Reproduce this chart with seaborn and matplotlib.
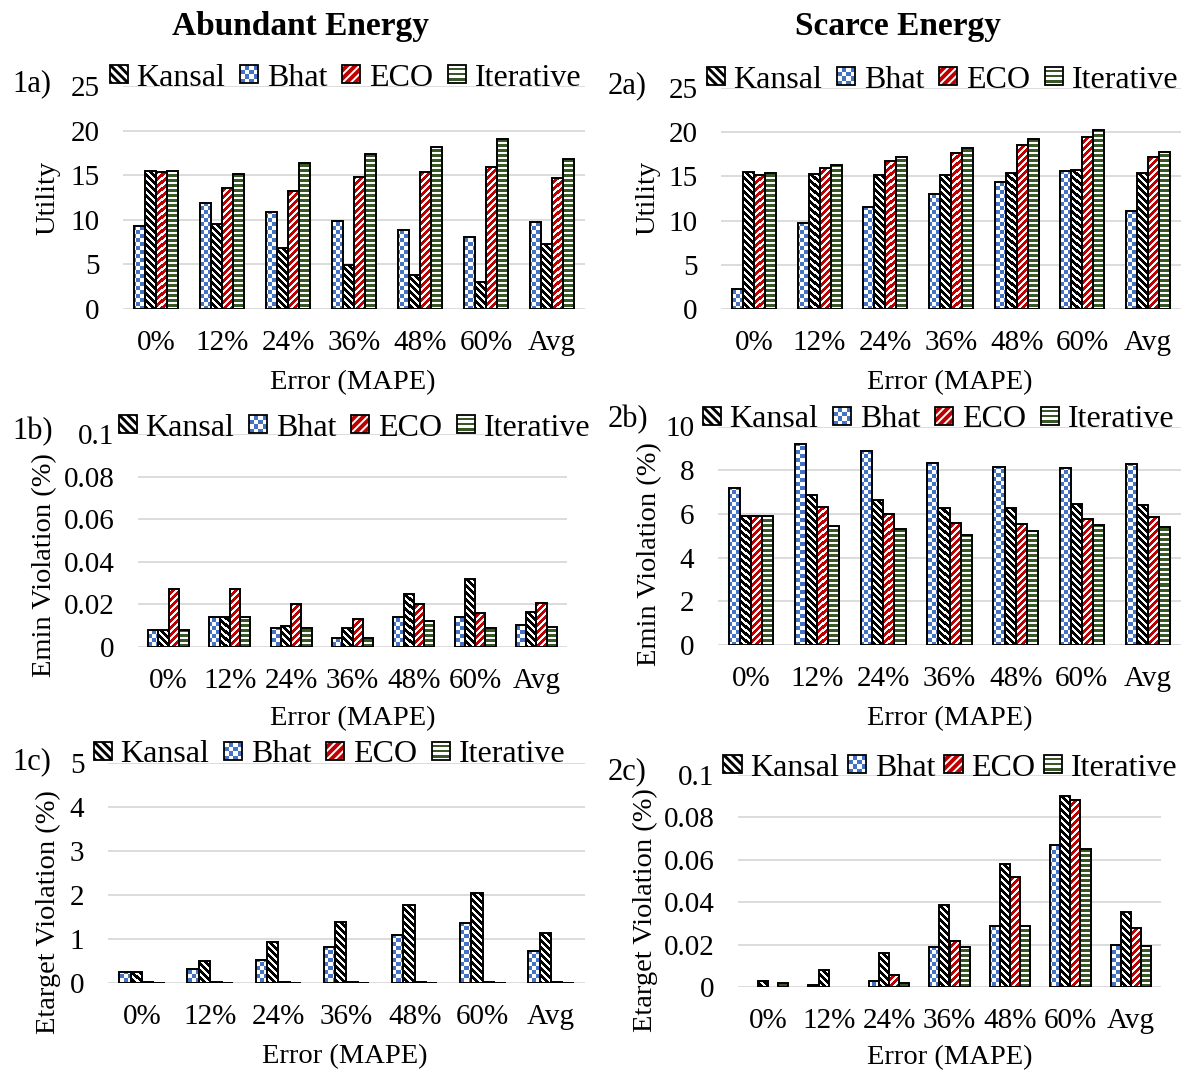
import numpy as np
import pandas as pd
import matplotlib
matplotlib.use("Agg")
import matplotlib.pyplot as plt
from matplotlib.patches import Rectangle, Polygon
from matplotlib.colors import to_rgb
from matplotlib.legend_handler import HandlerBase
from matplotlib.ticker import FuncFormatter
import seaborn as sns

# ---------------------------------------------------------------- data
errors = ["0%", "12%", "24%", "36%", "48%", "60%", "Avg"]

# 1a) utility, abundant energy
util_ab_bhat = [9.25, 11.85, 10.9, 9.8, 8.85, 8.0, 9.75]
util_ab_kansal = [15.45, 9.55, 6.8, 4.9, 3.8, 3.0, 7.25]
util_ab_eco = [15.4, 13.6, 13.2, 14.75, 15.3, 15.9, 14.7]
util_ab_iter = [15.5, 15.1, 16.4, 17.4, 18.2, 19.05, 16.8]

# 2a) utility, scarce energy
util_sc_bhat = [2.25, 9.7, 11.5, 13.0, 14.35, 15.65, 11.1]
util_sc_kansal = [15.45, 15.3, 15.1, 15.2, 15.4, 15.7, 15.35]
util_sc_eco = [15.2, 15.95, 16.7, 17.6, 18.5, 19.4, 17.2]
util_sc_iter = [15.4, 16.3, 17.2, 18.15, 19.2, 20.2, 17.75]

# 1b) Emin violation, abundant energy
emin_ab_bhat = [0.008, 0.014, 0.009, 0.004, 0.014, 0.014, 0.0105]
emin_ab_kansal = [0.008, 0.014, 0.010, 0.009, 0.025, 0.032, 0.0165]
emin_ab_eco = [0.027, 0.027, 0.020, 0.013, 0.020, 0.016, 0.0205]
emin_ab_iter = [0.008, 0.014, 0.009, 0.004, 0.012, 0.009, 0.0095]

# 2b) Emin violation, scarce energy
emin_sc_bhat = [7.2, 9.2, 8.9, 8.35, 8.15, 8.1, 8.3]
emin_sc_kansal = [5.9, 6.85, 6.65, 6.25, 6.25, 6.45, 6.4]
emin_sc_eco = [5.9, 6.3, 6.0, 5.6, 5.55, 5.75, 5.85]
emin_sc_iter = [5.9, 5.45, 5.3, 5.05, 5.2, 5.5, 5.4]

# 1c) Etarget violation, abundant energy
etgt_ab_bhat = [0.25, 0.33, 0.54, 0.82, 1.10, 1.36, 0.73]
etgt_ab_kansal = [0.25, 0.50, 0.95, 1.40, 1.77, 2.06, 1.15]
etgt_ab_eco = [0.04, 0.02, 0.02, 0.02, 0.02, 0.02, 0.02]
etgt_ab_iter = [0.008, 0.008, 0.008, 0.008, 0.008, 0.008, 0.008]

# 2c) Etarget violation, scarce energy
etgt_sc_bhat = [0.0, 0.001, 0.003, 0.019, 0.029, 0.067, 0.020]
etgt_sc_kansal = [0.003, 0.008, 0.016, 0.039, 0.058, 0.090, 0.0355]
etgt_sc_eco = [0.0, 0.0, 0.006, 0.022, 0.052, 0.088, 0.028]
etgt_sc_iter = [0.002, 0.0, 0.002, 0.019, 0.029, 0.065, 0.0195]

bar_order = ["Bhat", "Kansal", "ECO", "Iterative"]
legend_order = ["Kansal", "Bhat", "ECO", "Iterative"]

# ---------------------------------------------------------------- style
BLUE = np.array(to_rgb("#4472C4"))
RED = np.array(to_rgb("#C00000"))
GREEN = np.array(to_rgb("#385626"))
WHITE = np.array([1.0, 1.0, 1.0])
BLACK = np.array([0.0, 0.0, 0.0])


def pattern(method, X, Y):
    """Pixel pattern fill (display pixel coordinates X, Y) for a method."""
    if method == "Bhat":          # small checkerboard
        c = 4
        on = ((X // c + Y // c) % 2) == 0
        fg, bg = BLUE, WHITE
    elif method == "Kansal":      # wide downward diagonal
        P = 7
        on = ((X + Y) % P) < 3.6
        fg, bg = BLACK, WHITE
    elif method == "ECO":         # light upward diagonal on red
        P = 7
        on = ((X - Y) % P) >= 2.3
        fg, bg = RED, WHITE
    else:                         # narrow horizontal
        on = (Y % 5) >= 2
        fg, bg = GREEN, WHITE
    return np.where(on[..., None], fg, bg)


sns.set_theme(style="white")
plt.rcParams["font.family"] = ["Liberation Serif", "DejaVu Serif"]
for k in ("text.color", "axes.labelcolor", "xtick.color", "ytick.color"):
    plt.rcParams[k] = "black"

W, H = 1190, 1074
fig = plt.figure(figsize=(W / 100, H / 100), dpi=100)


def fx(px):
    return px / W


def fy(py):
    return 1 - py / H


def clip_poly(poly, a, b, c):
    """Keep the part of a polygon with a*x + b*y + c >= 0."""
    out = []
    n = len(poly)
    for i in range(n):
        p, q = poly[i], poly[(i + 1) % n]
        fp, fq = a * p[0] + b * p[1] + c, a * q[0] + b * q[1] + c
        if fp >= 0:
            out.append(p)
        if (fp >= 0) != (fq >= 0):
            t = fp / (fp - fq)
            out.append((p[0] + t * (q[0] - p[0]), p[1] + t * (q[1] - p[1])))
    return out


class Key:
    def __init__(self, method):
        self.method = method


class KeyHandler(HandlerBase):
    def create_artists(self, legend, orig_handle, xdescent, ydescent,
                       width, height, fontsize, trans):
        m = orig_handle.method
        s = height
        x0 = -xdescent + (width - s) / 2
        y0 = -ydescent
        arts = []
        bg = {"Bhat": WHITE, "Kansal": WHITE, "ECO": RED, "Iterative": WHITE}[m]
        arts.append(Rectangle((x0, y0), s, s, facecolor=bg, lw=0, transform=trans))
        if m == "Bhat":
            n = 4
            c = s / n
            for i in range(n):
                for j in range(n):
                    if (i + j) % 2 == 0:
                        arts.append(Rectangle((x0 + i * c, y0 + j * c), c, c,
                                              facecolor=BLUE, lw=0, transform=trans))
        elif m == "Iterative":
            n = 7
            c = s / n
            for j in range(1, n, 2):
                arts.append(Rectangle((x0, y0 + j * c), s, c, facecolor=GREEN,
                                      lw=0, transform=trans))
        else:
            period = s / 2.2
            frac = 0.5 if m == "Kansal" else 0.33
            col = BLACK if m == "Kansal" else WHITE
            sign = 1 if m == "Kansal" else -1
            square = [(0, 0), (s, 0), (s, s), (0, s)]
            off = 0 if sign == 1 else s
            for k in range(-6, 8):
                lo = k * period
                hi = lo + frac * period
                poly = clip_poly(square, 1, sign, off - lo)
                poly = clip_poly(poly, -1, -sign, hi - off)
                if len(poly) >= 3:
                    arts.append(Polygon([(x0 + u, y0 + v) for u, v in poly],
                                        closed=True, facecolor=col, lw=0,
                                        transform=trans))
        arts.append(Rectangle((x0, y0), s, s, fill=False, edgecolor="black",
                              lw=1.3, transform=trans))
        return arts


def style_bars(ax):
    inv = ax.transData.inverted()
    for method, cont in zip(bar_order, ax.containers):
        for p in cont.patches:
            x, y = p.get_x(), p.get_y()
            w, h = p.get_width(), p.get_height()
            p.set_facecolor("none")
            p.set_linewidth(0)
            if h <= 0:
                continue
            (px0, py0), (px1, py1) = ax.transData.transform([(x, y), (x + w, y + h)])
            ix0, ix1 = int(round(px0)), int(round(px1))
            iy0, iy1 = int(round(py0)), int(round(py1))
            if ix1 > ix0 and iy1 > iy0:
                X, Y = np.meshgrid(np.arange(ix0, ix1), np.arange(iy0, iy1))
                img = pattern(method, X, Y)
                (dx0, dy0), (dx1, dy1) = inv.transform([(ix0, iy0), (ix1, iy1)])
                ax.imshow(img, extent=(dx0, dx1, dy0, dy1), origin="lower",
                          interpolation="nearest", aspect="auto", zorder=2)
            ax.add_patch(Rectangle((x, y), w, h, fill=False, edgecolor="black",
                                   lw=1.4, zorder=3))


def panel(series, box, ymax, ystep, ylabel, ylabel_pos, xlabel_pos,
          legend_pos, tag, tag_pos, colspace=0.5):
    left, top, right, bottom = box
    ax = fig.add_axes([fx(left), fy(bottom), fx(right) - fx(left), fy(top) - fy(bottom)])
    df = pd.DataFrame({
        "Error": np.tile(errors, len(bar_order)),
        "Method": np.repeat(bar_order, len(errors)),
        "Value": np.concatenate([series[m] for m in bar_order]),
    })
    sns.barplot(data=df, x="Error", y="Value", hue="Method", order=errors,
                hue_order=bar_order, width=0.67, errorbar=None, legend=False,
                saturation=1, ax=ax)
    ax.set_xlim(-0.5, len(errors) - 0.5)
    ax.set_ylim(0, ymax)
    ax.set_yticks(np.arange(0, ymax + ystep / 2, ystep))
    ax.yaxis.set_major_formatter(FuncFormatter(lambda v, _: f"{round(v, 6):g}"))
    for s in ax.spines.values():
        s.set_visible(False)
    ax.grid(axis="y", color="#D9D9D9", lw=1.3)
    ax.grid(axis="x", visible=False)
    ax.set_axisbelow(True)
    ax.tick_params(axis="x", length=0, pad=15, labelsize=21)
    ax.tick_params(axis="y", length=0, pad=17, labelsize=21)
    ax.set_xlabel("Error (MAPE)", fontsize=20.5, va="center", ha="center")
    ax.xaxis.set_label_coords(fx(xlabel_pos[0]), fy(xlabel_pos[1]), transform=fig.transFigure)
    ax.set_ylabel(ylabel, fontsize=20.5, va="center", ha="center")
    ax.yaxis.set_label_coords(fx(ylabel_pos[0]), fy(ylabel_pos[1]), transform=fig.transFigure)
    style_bars(ax)
    handles = [Key(m) for m in legend_order]
    fig.legend(handles, legend_order, handler_map={Key: KeyHandler()},
               loc="center", bbox_to_anchor=(fx(legend_pos[0]), fy(legend_pos[1])),
               ncol=4, frameon=False, fontsize=23, handlelength=0.5,
               handleheight=0.5, handletextpad=0.3, columnspacing=colspace,
               borderpad=0, borderaxespad=0)
    fig.text(fx(tag_pos[0]), fy(tag_pos[1]), tag, fontsize=22, ha="left", va="center")
    return ax


panel({"Bhat": util_ab_bhat, "Kansal": util_ab_kansal, "ECO": util_ab_eco,
       "Iterative": util_ab_iter},
      (123, 86, 585, 308.7), 25, 5, "Utility", (48, 198), (353, 383),
      (346, 78), "1a)", (12, 84))

panel({"Bhat": util_sc_bhat, "Kansal": util_sc_kansal, "ECO": util_sc_eco,
       "Iterative": util_sc_iter},
      (721, 87.8, 1181, 309), 25, 5, "Utility", (648, 198), (950, 383),
      (943, 80), "2a)", (608, 86))

panel({"Bhat": emin_ab_bhat, "Kansal": emin_ab_kansal, "ECO": emin_ab_eco,
       "Iterative": emin_ab_iter},
      (138, 434, 567, 647), 0.1, 0.02, "Emin Violation (%)", (45, 565),
      (353, 719), (355, 428), "1b)", (12, 432))

panel({"Bhat": emin_sc_bhat, "Kansal": emin_sc_kansal, "ECO": emin_sc_eco,
       "Iterative": emin_sc_iter},
      (718, 426.5, 1181, 645), 10, 2, "Emin Violation (%)", (650, 554),
      (950, 719), (939, 420), "2b)", (608, 420))

panel({"Bhat": etgt_ab_bhat, "Kansal": etgt_ab_kansal, "ECO": etgt_ab_eco,
       "Iterative": etgt_ab_iter},
      (108, 763.3, 585, 983.3), 5, 1, "Etarget Violation (%)", (48, 912),
      (345, 1057), (330, 755), "1c)", (12, 762))

panel({"Bhat": etgt_sc_bhat, "Kansal": etgt_sc_kansal, "ECO": etgt_sc_eco,
       "Iterative": etgt_sc_iter},
      (738, 775, 1161, 987.3), 0.1, 0.02, "Etarget Violation (%)", (645, 910),
      (950, 1058), (951, 768), "2c)", (608, 772), colspace=0.32)

fig.text(fx(300), fy(26), "Abundant Energy", fontsize=24, fontweight="bold",
         ha="center", va="center")
fig.text(fx(898), fy(26), "Scarce Energy", fontsize=24, fontweight="bold",
         ha="center", va="center")

fig.savefig("out.png", dpi=100)
